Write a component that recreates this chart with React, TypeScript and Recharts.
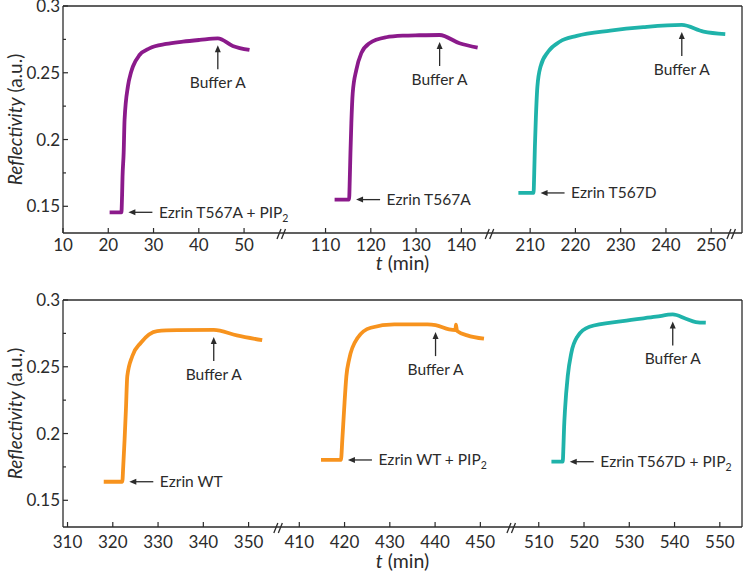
import React from 'react'
import { LineChart, Line, XAxis, YAxis, ReferenceLine, ReferenceDot } from 'recharts'

const FONT = 'Lato, "DejaVu Sans", sans-serif'
const INK = '#2b2b2b'
const PURPLE = '#8b1a8b'
const TEAL = '#1fb3aa'
const ORANGE = '#f7931e'

// top panel traces (t in min, reflectivity in a.u.)
const T567A_PIP2_T = [20.3, 22.9, 23.05, 23.15, 23.4, 23.6, 24.35, 25.0, 25.45, 26.9, 29.1, 32.8, 36.5, 40.2, 44.2, 47.5, 51.2]
const T567A_PIP2_R = [0.1455, 0.1455, 0.158, 0.172, 0.19, 0.2147, 0.24, 0.25, 0.2547, 0.2633, 0.2683, 0.2716, 0.2733, 0.2746, 0.2758, 0.2701, 0.2671]

const T567A_T = [112.0, 115.2, 115.35, 115.5, 115.7, 116.0, 116.8, 117.9, 119.7, 123.4, 127.1, 130.7, 135.2, 139.6, 143.6]
const T567A_R = [0.155, 0.155, 0.17, 0.19, 0.2123, 0.2347, 0.2522, 0.2647, 0.2721, 0.2766, 0.2778, 0.2781, 0.2783, 0.2721, 0.2688]

const T567D_T = [207.4, 210.75, 210.9, 211.05, 211.25, 211.6, 212.3, 214.0, 216.6, 220.3, 227.7, 235.0, 243.5, 248.3, 253.1]
const T567D_R = [0.16, 0.16, 0.175, 0.195, 0.215, 0.2397, 0.2547, 0.2659, 0.2734, 0.2776, 0.2815, 0.2841, 0.2858, 0.2808, 0.279]

// bottom panel traces
const WT_T = [318.0, 322.1, 322.3, 322.6, 322.9, 323.2, 324.3, 326.2, 329.8, 334.2, 342.3, 347.4, 353.0]
const WT_R = [0.1639, 0.1639, 0.175, 0.195, 0.218, 0.2429, 0.2579, 0.268, 0.2767, 0.2774, 0.2776, 0.2735, 0.2699]

const WT_PIP2_T = [414.8, 419.2, 419.5, 419.9, 420.4, 421.0, 422.9, 425.8, 431.0, 438.3, 440.1, 443.1, 444.5, 444.6, 444.8, 445.0, 447.1, 450.8]
const WT_PIP2_R = [0.1802, 0.1802, 0.195, 0.2178, 0.2429, 0.2554, 0.2717, 0.2792, 0.2817, 0.2817, 0.2812, 0.278, 0.2775, 0.2815, 0.2775, 0.2765, 0.2735, 0.271]

const T567D_PIP2_T = [512.8, 515.3, 515.45, 515.6, 515.8, 516.4, 517.2, 518.6, 521.2, 528.5, 535.9, 539.6, 542.5, 544.7, 546.9]
const T567D_PIP2_R = [0.1789, 0.1789, 0.19, 0.205, 0.2178, 0.2429, 0.2604, 0.2729, 0.28, 0.2842, 0.2875, 0.2892, 0.286, 0.2835, 0.283]

const TOP_TICKS = [10, 20, 30, 40, 50, 110, 120, 130, 140, 210, 220, 230, 240, 250]
const BOTTOM_TICKS = [310, 320, 330, 340, 350, 410, 420, 430, 440, 450, 510, 520, 530, 540, 550]
const Y_TICKS = [0.15, 0.175, 0.2, 0.225, 0.25, 0.275, 0.3]
const Y_LABELLED = [0.15, 0.2, 0.25, 0.3]

type Series = {
  t: number[]
  r: number[]
  color: string
  buffer: number // index of the buffer A exchange point
  label: string
  sub?: string
}

type PanelProps = {
  top: number
  height: number
  marginTop: number
  axisH: number
  domain: [number, number]
  base: number
  offsets: number[] // axis-break shift per segment
  tickLabels: number[]
  breaks: number[]
  series: Series[]
  tickDy: number
  titleDy: number
}

const segOf = (t: number, base: number) => (t >= base + 200 ? 2 : t >= base + 100 ? 1 : 0)

function LeftArrow({ cx, cy, label, sub }: any) {
  const tip = cx + 7
  const tail = tip + 24
  return (
    <g>
      <line x1={tail} y1={cy} x2={tip + 5} y2={cy} stroke={INK} strokeWidth={1.3} />
      <path d={`M${tip},${cy} L${tip + 7},${cy - 3} L${tip + 7},${cy + 3} Z`} fill={INK} />
      <text x={tail + 6.5} y={cy + 5.5} fontSize={15.5} fill={INK} fontFamily={FONT}>
        {label}
        {sub && (
          <tspan dy={4} fontSize={10.5}>
            {sub}
          </tspan>
        )}
      </text>
    </g>
  )
}

function UpArrow({ cx, cy }: any) {
  const tip = cy + 7
  const tail = cy + 31
  return (
    <g>
      <line x1={cx} y1={tail} x2={cx} y2={tip + 5} stroke={INK} strokeWidth={1.3} />
      <path d={`M${cx},${tip} L${cx - 3},${tip + 7} L${cx + 3},${tip + 7} Z`} fill={INK} />
      <text x={cx} y={cy + 50} textAnchor="middle" fontSize={15.5} fill={INK} fontFamily={FONT}>
        Buffer A
      </text>
    </g>
  )
}

function BreakMark({ cx, cy }: any) {
  return (
    <g stroke={INK} strokeWidth={1.3}>
      <line x1={cx - 6} y1={cy + 6} x2={cx - 2} y2={cy - 4} />
      <line x1={cx - 1.5} y1={cy + 6} x2={cx + 2.5} y2={cy - 4} />
    </g>
  )
}

function Panel(p: PanelProps) {
  const toP = (t: number) => t - p.offsets[segOf(t, p.base)]
  const ticks = p.tickLabels.map(toP)
  const labelOf = new Map(ticks.map((v, i) => [v.toFixed(3), p.tickLabels[i]]))
  const [yMin, yMax] = [0.13, 0.3]

  const XTick = ({ x, y, payload }: any) => (
    <g>
      <line x1={x} y1={y} x2={x} y2={y - 5} stroke={INK} strokeWidth={1.2} />
      <text x={x} y={y + p.tickDy} textAnchor="middle" fontSize={17} fill={INK} fontFamily={FONT}>
        {labelOf.get(Number(payload.value).toFixed(3))}
      </text>
    </g>
  )

  const YTick = ({ x, y, payload }: any) => {
    const major = Y_LABELLED.some((v) => Math.abs(v - payload.value) < 1e-6)
    return (
      <g>
        <line x1={x} y1={y} x2={x + (major ? 5 : 3)} y2={y} stroke={INK} strokeWidth={1.2} />
        {major && (
          <text x={x - 3} y={y + 6} textAnchor="end" fontSize={17} fill={INK} fontFamily={FONT}>
            {payload.value}
          </text>
        )}
      </g>
    )
  }

  const YTitle = ({ viewBox }: any) => {
    const cy = viewBox.y + viewBox.height / 2
    const x = 14
    return (
      <text
        transform={`rotate(-90 ${x} ${cy})`}
        x={x}
        y={cy}
        textAnchor="middle"
        dominantBaseline="central"
        fontSize={19}
        fill={INK}
        fontFamily={FONT}
      >
        <tspan fontStyle="italic">Reflectivity</tspan>
        {' (a.u.)'}
      </text>
    )
  }

  const XTitle = ({ viewBox }: any) => (
    <text
      x={viewBox.x + viewBox.width / 2}
      y={viewBox.y + p.titleDy}
      textAnchor="middle"
      fontSize={19.5}
      fill={INK}
      fontFamily={FONT}
    >
      <tspan fontStyle="italic">t</tspan>
      {' (min)'}
    </text>
  )

  return (
    <div style={{ position: 'absolute', left: 0, top: p.top }}>
      <LineChart width={745} height={p.height} margin={{ top: p.marginTop, right: 3, bottom: 0, left: 0 }}>
        <XAxis
          type="number"
          dataKey="p"
          domain={p.domain}
          allowDataOverflow
          ticks={ticks}
          interval={0}
          tickSize={0}
          tickMargin={0}
          tickLine={false}
          tick={<XTick />}
          height={p.axisH}
          axisLine={{ stroke: INK, strokeWidth: 1.3 }}
          label={{ content: <XTitle /> }}
        />
        <YAxis
          type="number"
          domain={[yMin, yMax]}
          allowDataOverflow
          ticks={Y_TICKS}
          interval={0}
          tickSize={0}
          tickMargin={0}
          tickLine={false}
          tick={<YTick />}
          width={63}
          axisLine={{ stroke: INK, strokeWidth: 1.3 }}
          label={{ content: <YTitle /> }}
        />
        <ReferenceLine y={yMax} stroke={INK} strokeWidth={1.3} />
        <ReferenceLine x={p.domain[1]} stroke={INK} strokeWidth={1.3} />
        {p.series.map((s, i) => (
          <Line
            key={i}
            data={s.t.map((t, j) => ({ p: toP(t), v: s.r[j] }))}
            dataKey="v"
            type="monotone"
            stroke={s.color}
            strokeWidth={3.8}
            dot={false}
            isAnimationActive={false}
          />
        ))}
        {p.series.map((s, i) => (
          <ReferenceDot
            key={'e' + i}
            x={toP(s.t[1])}
            y={s.r[1]}
            shape={(props: any) => <LeftArrow cx={props.cx} cy={props.cy} label={s.label} sub={s.sub} />}
          />
        ))}
        {p.series.map((s, i) => (
          <ReferenceDot
            key={'b' + i}
            x={toP(s.t[s.buffer])}
            y={s.r[s.buffer]}
            shape={(props: any) => <UpArrow cx={props.cx} cy={props.cy} />}
          />
        ))}
        {p.breaks.map((b, i) => (
          <ReferenceDot
            key={'k' + i}
            x={b}
            y={yMin}
            ifOverflow="visible"
            shape={(props: any) => <BreakMark cx={props.cx} cy={props.cy} />}
          />
        ))}
      </LineChart>
    </div>
  )
}

export default function App() {
  const topSeries: Series[] = [
    { t: T567A_PIP2_T, r: T567A_PIP2_R, color: PURPLE, buffer: 14, label: 'Ezrin T567A + PIP', sub: '2' },
    { t: T567A_T, r: T567A_R, color: PURPLE, buffer: 12, label: 'Ezrin T567A' },
    { t: T567D_T, r: T567D_R, color: TEAL, buffer: 12, label: 'Ezrin T567D' },
  ]
  const bottomSeries: Series[] = [
    { t: WT_T, r: WT_R, color: ORANGE, buffer: 10, label: 'Ezrin WT' },
    { t: WT_PIP2_T, r: WT_PIP2_R, color: ORANGE, buffer: 10, label: 'Ezrin WT + PIP', sub: '2' },
    { t: T567D_PIP2_T, r: T567D_PIP2_R, color: TEAL, buffer: 11, label: 'Ezrin T567D + PIP', sub: '2' },
  ]
  return (
    <div style={{ position: 'absolute', left: 0, top: 0, width: 745, height: 572, background: '#fff' }}>
      <Panel
        top={0}
        height={290}
        marginTop={6}
        axisH={57}
        domain={[10, 160]}
        base={0}
        offsets={[0, 42, 96.8]}
        tickLabels={TOP_TICKS}
        breaks={[58.6, 104.6, 158]}
        series={topSeries}
        tickDy={18}
        titleDy={37}
      />
      <Panel
        top={290}
        height={282}
        marginTop={10}
        axisH={45}
        domain={[309, 459]}
        base={300}
        offsets={[0, 48.8, 95.9]}
        tickLabels={BOTTOM_TICKS}
        breaks={[356.9, 408.4]}
        series={bottomSeries}
        tickDy={21}
        titleDy={41}
      />
    </div>
  )
}
